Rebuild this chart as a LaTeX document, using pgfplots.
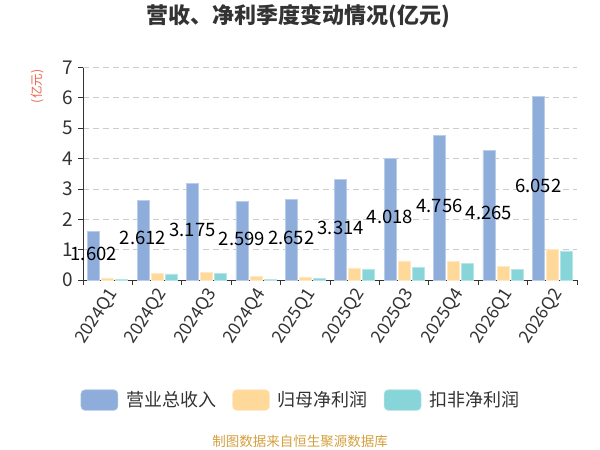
\documentclass[border=0pt]{standalone}
\usepackage{pgfplots}
\pgfplotsset{compat=1.18}
\usepackage{fontspec}
\setmainfont{Noto Sans CJK SC}
\definecolor{cRev}{HTML}{8EADDB}
\definecolor{cNet}{HTML}{FFD999}
\definecolor{cDed}{HTML}{87D5D8}
\definecolor{cTxt}{HTML}{333333}
\definecolor{cGrid}{HTML}{CCCCCC}
\definecolor{cUnit}{HTML}{E8664A}
\definecolor{cFoot}{HTML}{D4A03F}
\pgfplotstableread{
x rev net ded half
0 1.602 0.066 0.02 0.801
1 2.612 0.23 0.20 1.306
2 3.175 0.25 0.21 1.5875
3 2.599 0.11 0.03 1.2995
4 2.652 0.10 0.04 1.326
5 3.314 0.40 0.35 1.657
6 4.018 0.63 0.42 2.009
7 4.756 0.61 0.55 2.378
8 4.265 0.44 0.35 2.1325
9 6.052 1.02 0.96 3.026
}\datatable
\begin{document}
\begin{tikzpicture}[x=1pt,y=1pt]
\useasboundingbox (0,0) rectangle (600,450);
\begin{axis}[
  scale only axis,
  width=494pt, height=212.5pt,
  at={(83pt,170pt)}, anchor=south west,
  xmin=-0.5, xmax=9.5, ymin=0, ymax=7,
  axis lines*=left,
  axis line style={draw=cTxt, line width=0.8pt},
  xtick={0,...,9},
  xticklabels={2024Q1,2024Q2,2024Q3,2024Q4,2025Q1,2025Q2,2025Q3,2025Q4,2026Q1,2026Q2},
  major x tick style={draw=none},
  minor xtick={-0.5,0.5,...,9.5},
  minor x tick style={draw=cTxt, line width=0.8pt},
  minor tick length=5pt,
  tick align=outside,
  ytick={0,...,7},
  major y tick style={draw=cTxt, line width=0.8pt},
  major tick length=5pt,
  x tick label style={rotate=57, anchor=east, font=\fontsize{17.5}{17.5}\selectfont, text=cTxt, inner sep=1pt, xshift=0pt, yshift=-8pt},
  y tick label style={font=\fontsize{19}{19}\selectfont, text=cTxt, inner sep=1pt, xshift=-4pt},
  /pgf/number format/assume math mode=true,
  ymajorgrids,
  y grid style={draw=cGrid, dash pattern=on 6pt off 4pt, line width=0.8pt},
  clip=false,
  legend style={at={(0.4393,-0.565)}, anchor=center, draw=none, fill=none,
    legend columns=3, font=\fontsize{18}{18}\selectfont, text=cTxt,
    /tikz/every odd column/.append style={column sep=8pt},
    /tikz/every even column/.append style={column sep=16pt},
    nodes={inner sep=0pt}},
  legend cell align=left,
]
\addplot[ybar, bar width=12pt, bar shift=-14pt, fill=cRev, draw=cRev!60!white, line width=0.6pt,
  legend image code/.code={\draw[rounded corners=4pt, fill=cRev, draw=cRev!60!white, line width=0.6pt] (0pt,-10.3pt) rectangle (37pt,10.3pt);}]
  table[x=x, y=rev] {\datatable};
\addlegendentry{营业总收入}
\addplot[ybar, bar width=12pt, bar shift=0pt, fill=cNet, draw=cNet!60!white, line width=0.6pt,
  legend image code/.code={\draw[rounded corners=4pt, fill=cNet, draw=cNet!60!white, line width=0.6pt] (0pt,-10.3pt) rectangle (37pt,10.3pt);}]
  table[x=x, y=net] {\datatable};
\addlegendentry{归母净利润}
\addplot[ybar, bar width=12pt, bar shift=14pt, fill=cDed, draw=cDed!60!white, line width=0.6pt,
  legend image code/.code={\draw[rounded corners=4pt, fill=cDed, draw=cDed!60!white, line width=0.6pt] (0pt,-10.3pt) rectangle (37pt,10.3pt);}]
  table[x=x, y=ded] {\datatable};
\addlegendentry{扣非净利润}
\addplot[only marks, mark=none, forget plot,
  nodes near coords, point meta=explicit symbolic,
  nodes near coords style={anchor=center, xshift=-14pt, yshift=2pt, font=\fontsize{18.5}{18.5}\selectfont, text=black}]
  table[x=x, y=half, meta=rev] {\datatable};
\end{axis}
\node[font=\fontsize{22}{22}\selectfont\bfseries, text=cTxt] at (298.5,433.5) {营收、净利季度变动情况(亿元)};
\node[font=\fontsize{12.5}{12.5}\selectfont, text=cUnit, rotate=90] at (37,363.5) {(亿元)};
\node[font=\fontsize{13.5}{13.5}\selectfont, text=cFoot] at (300,9) {制图数据来自恒生聚源数据库};
\end{tikzpicture}
\end{document}
